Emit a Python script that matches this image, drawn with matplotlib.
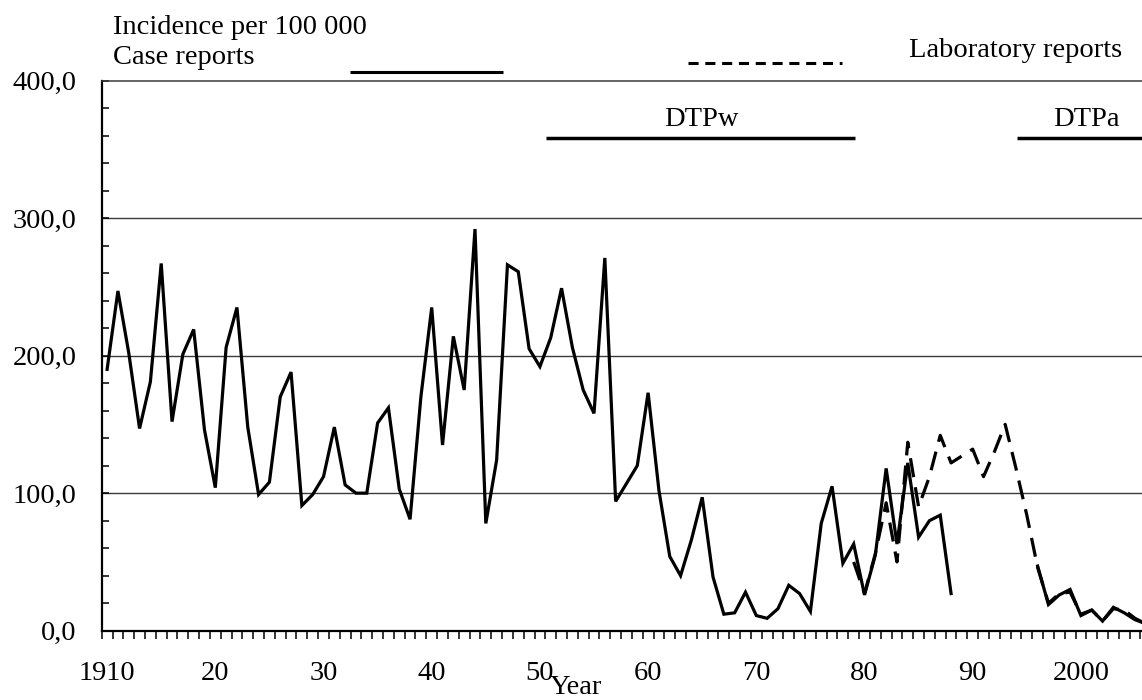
import numpy as np
import matplotlib
matplotlib.use("Agg")
import matplotlib.pyplot as plt
from matplotlib.ticker import FixedLocator, FuncFormatter, MultipleLocator

# ---------------- data ----------------
case_years = list(range(1910, 2007))
case_values = [
    190, 247, 202, 147, 181, 267, 152, 201, 219, 146,   # 1910-1919
    104, 206, 235, 148, 99, 108, 170, 188, 91, 99,      # 1920-1929
    112, 148, 106, 100, 100, 151, 162, 103, 81, 170,    # 1930-1939
    235, 135, 214, 175, 292, 78, 124, 266, 261, 205,    # 1940-1949
    192, 213, 249, 206, 175, 158, 271, 94, 107, 120,    # 1950-1959
    173, 102, 54, 40, 66, 97, 39, 12, 13, 28,           # 1960-1969
    11, 9, 16, 33, 27, 14, 78, 105, 49, 63,             # 1970-1979
    26, 55, 118, 63, 122, 68, 80, 84, 27, None,         # 1980-1989
    None, None, None, None, None, None, 47, 19, 26, 30, # 1990-1999
    11, 15, 7, 17, 13, 8, 5,                            # 2000-2006
]
lab_years = list(range(1979, 2007))
lab_values = [
    50, 27, 56, 93, 50, 137, 90, 112, 142, 122, 127,    # 1979-1989
    132, 112, 130, 150, 118, 84, 46, 20, 27, 28,        # 1990-1999
    12, 15, 7, 16, 15, 9, 5,                            # 2000-2006
]
vaccine_names = ["DTPw", "DTPa"]
vaccine_start = [1950.6, 1994.1]
vaccine_end = [1979.1, 2007.0]
vaccine_label_x = [1964.9, 2000.5]
vaccine_level = 358

decade_ticks = [1910, 1920, 1930, 1940, 1950, 1960, 1970, 1980, 1990, 2000]
decade_labels = ["1910", "20", "30", "40", "50", "60", "70", "80", "90", "2000"]
y_major = [0, 100, 200, 300, 400]

# ---------------- figure ----------------
W, H = 1142, 700
fig = plt.figure(figsize=(W / 100, H / 100), dpi=100)
plt.rcParams['font.family'] = ['Liberation Serif', 'DejaVu Serif']
FS = 20.5

left_px, right_px, top_px, bottom_px = 101.7, 1142, 80.5, 630.7
ax = fig.add_axes([left_px / W, 1 - bottom_px / H,
                   (right_px - left_px) / W, (bottom_px - top_px) / H])

cy = np.array([np.nan if v is None else v for v in case_values], dtype=float)
ax.plot(case_years, cy, color='black', lw=2.3, solid_joinstyle='miter',
        zorder=4, clip_on=True)
ax.plot(lab_years, lab_values, color='black', lw=2.3,
        linestyle=(0, (6.0, 3.2)), zorder=3, clip_on=True)

# vaccine periods
for name, s, e, lx in zip(vaccine_names, vaccine_start, vaccine_end, vaccine_label_x):
    ax.plot([s, e], [vaccine_level, vaccine_level], color='black', lw=2.5,
            solid_capstyle='butt', clip_on=True)
    ax.text(lx, 367, name, fontsize=FS, ha='center', va='baseline')

px_per_year = 10.82
x0 = 1909.5
ax.set_xlim(x0, x0 + (right_px - left_px) / px_per_year)
ax.set_ylim(0, 400)

# grid
for yv in y_major[1:-1]:
    ax.axhline(yv, color='#3a3a3a', lw=1.0, zorder=1)

ax.spines['right'].set_visible(False)
ax.spines['top'].set_color('#3a3a3a')
ax.spines['top'].set_linewidth(1.1)
ax.spines['left'].set_linewidth(1.6)
ax.spines['bottom'].set_linewidth(1.6)

# x ticks
ax.xaxis.set_major_locator(FixedLocator(decade_ticks))
ax.set_xticklabels(decade_labels, fontsize=FS)
ax.xaxis.set_minor_locator(FixedLocator(np.arange(1909.5, 2006.0, 1.0)))
ax.tick_params(axis='x', which='major', length=0, pad=22)
ax.tick_params(axis='x', which='minor', length=5.5, width=1.1, direction='out')

# y ticks
ax.yaxis.set_major_locator(FixedLocator(y_major))
ax.yaxis.set_major_formatter(FuncFormatter(lambda v, p: f"{v:.1f}".replace('.', ',')))
ax.yaxis.set_minor_locator(MultipleLocator(20))
ax.tick_params(axis='y', which='both', length=5, width=1.1, direction='in',
               labelsize=FS, pad=18)

# header texts and legend lines
fig.text(113.3 / W, 1 - 34.3 / H, "Incidence per 100 000", fontsize=FS,
         ha='left', va='baseline')
fig.text(113.3 / W, 1 - 64.3 / H, "Case reports", fontsize=FS,
         ha='left', va='baseline')
fig.text(1121.7 / W, 1 - 56.7 / H, "Laboratory reports", fontsize=FS,
         ha='right', va='baseline')
fig.add_artist(plt.Line2D([350 / W, 503 / W], [1 - 71.7 / H, 1 - 71.7 / H],
                          color='black', lw=2.2, solid_capstyle='butt'))
fig.add_artist(plt.Line2D([688 / W, 842 / W], [1 - 62.7 / H, 1 - 62.7 / H],
                          color='black', lw=2.2, linestyle=(0, (3.3, 2.2))))

fig.text(576 / W, 1 - 694 / H, "Year", fontsize=FS, ha='center', va='baseline')

fig.savefig("out.png", dpi=100)
